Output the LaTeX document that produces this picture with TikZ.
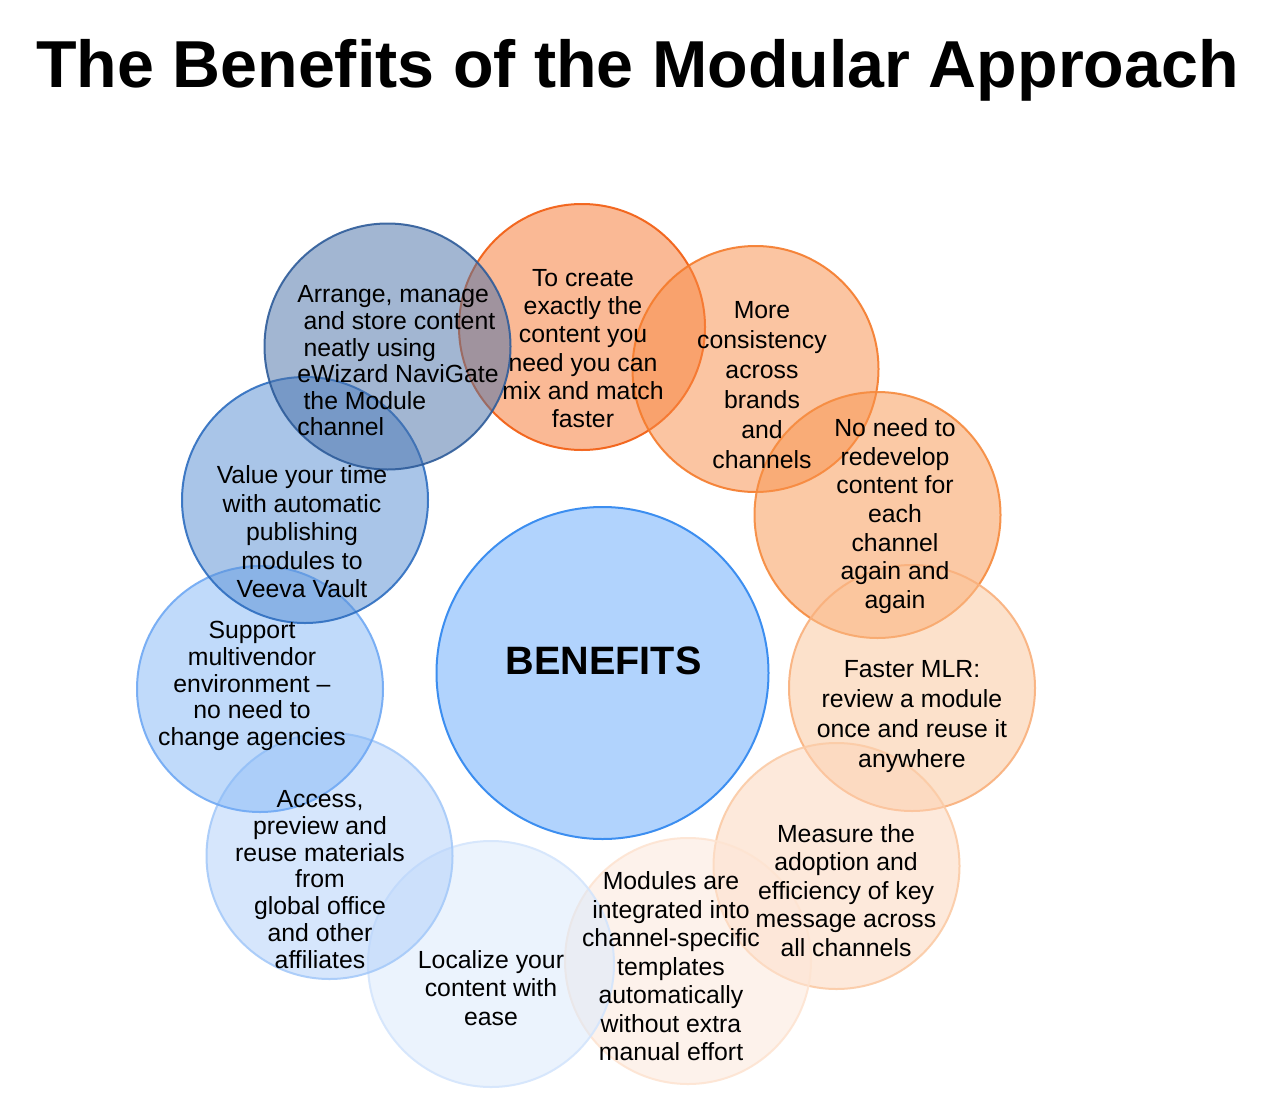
\documentclass[tikz,border=0pt]{standalone}
\usepackage{fontspec}
\setmainfont{Liberation Sans}
\definecolor{f1}{RGB}{71,111,167}   \definecolor{d1}{RGB}{46,92,154}
\definecolor{f2}{RGB}{247,117,45}   \definecolor{d2}{RGB}{242,92,15}
\definecolor{f3}{RGB}{249,141,71}   \definecolor{d3}{RGB}{245,123,43}
\definecolor{f4}{RGB}{249,149,77}   \definecolor{d4}{RGB}{246,138,61}
\definecolor{f5}{RGB}{251,197,153}  \definecolor{d5}{RGB}{249,176,124}
\definecolor{f6}{RGB}{253,213,185}  \definecolor{d6}{RGB}{251,203,166}
\definecolor{f7}{RGB}{253,231,217}  \definecolor{d7}{RGB}{253,228,210}
\definecolor{f8}{RGB}{217,233,253}  \definecolor{d8}{RGB}{212,229,252}
\definecolor{f9}{RGB}{175,207,251}  \definecolor{d9}{RGB}{166,202,249}
\definecolor{f10}{RGB}{131,183,247} \definecolor{d10}{RGB}{112,169,244}
\definecolor{f11}{RGB}{85,141,211}  \definecolor{d11}{RGB}{46,110,192}
\definecolor{fB}{RGB}{177,211,253}  \definecolor{dB}{RGB}{60,142,240}
\tikzset{
  bubble/.style={circle, inner sep=0pt, minimum size=123pt, line width=1pt, fill opacity=0.5, draw opacity=0.9},
  bigbubble/.style={circle, inner sep=0pt, minimum size=166pt, line width=1pt},
  txt/.style={align=center, inner sep=0pt, text=black},
  title/.style={font=\bfseries\fontsize{33.2}{40}\selectfont, inner sep=0pt, anchor=base},
}
\newcommand{\fs}[1]{\fontsize{12.4}{#1}\selectfont}
\begin{document}
\begin{tikzpicture}[x=0.5pt,y=-0.5pt]
\useasboundingbox (0,0) rectangle (1279,1113);
\fill[white] (0,0) rectangle (1279,1113);
\node[title] (ttl) at (637.5,88) {The Benefits of the Modular Approach};
% central circle
\node[bigbubble, fill=fB, draw=dB] (cB) at (602.5,673) {};
% bubbles
\node[bubble, fill=f2, draw=d2] (c2) at (582,327) {};
\node[bubble, fill=f3, draw=d3] (c3) at (755.5,369) {};
\node[bubble, fill=f4, draw=d4] (c4) at (877.5,515) {};
\node[bubble, fill=f5, draw=d5] (c5) at (912,688) {};
\node[bubble, fill=f6, draw=d6] (c6) at (836.5,866) {};
\node[bubble, fill=f7, draw=d7] (c7) at (688,961) {};
\node[bubble, fill=f8, draw=d8] (c8) at (491,964) {};
\node[bubble, fill=f9, draw=d9] (c9) at (329.5,856) {};
\node[bubble, fill=f10, draw=d10] (c10) at (260,689) {};
\node[bubble, fill=f11, draw=d11] (c11) at (305,500) {};
\node[bubble, fill=f1, draw=d1] (c1) at (387.5,346.5) {};
% texts
\node[txt, font=\bfseries\fontsize{19.8}{23}\selectfont] (tB) at (603.5,661) {BENEFITS};
\node[txt, align=left, anchor=west, font=\fs{13.3}] (t1) at (297,361) {Arrange, manage\\\hspace*{.25em}and store content\\\hspace*{.25em}neatly using\\eWizard NaviGate\\\hspace*{.25em}the Module\\channel};
\node[txt, font=\fs{14.1}] (t2) at (583,348.5) {To create\\exactly the\\content you\\need you can\\mix and match\\faster};
\node[txt, font=\fs{15}] (t3) at (762,385) {More\\consistency\\across\\brands\\and\\channels};
\node[txt, font=\fs{14.33}] (t4) at (895,516) {No need to\\redevelop\\content for\\each\\channel\\again and\\again};
\node[txt, font=\fs{15}] (t5) at (912,716.5) {Faster MLR:\\review a module\\once and reuse it\\anywhere};
\node[txt, font=\fs{14.25}] (t6) at (846,890.5) {Measure the\\adoption and\\efficiency of key\\message across\\all channels};
\node[txt, font=\fs{14.25}] (t7) at (671,966.5) {Modules are\\integrated into\\channel-specific\\templates\\automatically\\without extra\\manual effort};
\node[txt, font=\fs{14.25}] (t8) at (491,988) {Localize your\\content with\\ease};
\node[txt, font=\fs{13.35}] (t9) at (320,879.5) {Access,\\preview and\\reuse materials\\from\\global office\\and other\\affiliates};
\node[txt, font=\fs{13.4}] (t10) at (252,686) {Support\\multivendor\\environment –\\no need to\\change agencies};
\node[txt, font=\fs{14.25}] (t11) at (302,532) {Value your time\\with automatic\\publishing\\modules to\\Veeva Vault};
\end{tikzpicture}
\end{document}
